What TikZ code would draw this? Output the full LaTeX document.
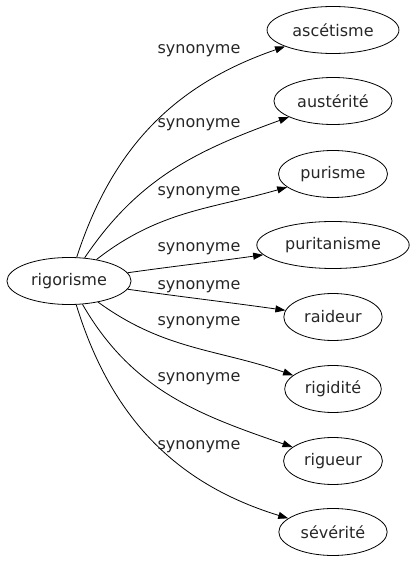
\documentclass[tikz,border=0pt]{standalone}
\usepackage{fontspec}
\setmainfont{DejaVu Sans}
\usetikzlibrary{shapes.geometric,arrows.meta}
\tikzset{word/.style={draw,ellipse,line width=0.8pt,inner xsep=6pt,minimum height=47pt,text=black!85},
  syn/.style={-{Triangle[length=10pt,width=7pt]},line width=0.8pt},
  synlabel/.style={text=black!85}}

\begin{document}
\begin{tikzpicture}[x=1pt,y=1pt,font=\fontsize{16}{19}\selectfont]
  \useasboundingbox (0,0) rectangle (415,563);
\node[word] (rig) at (69,282) {rigorisme};
\foreach \n/\t/\y in {asc/ascétisme/533,aus/austérité/462,pur/purisme/389,purit/puritanisme/318,
  rai/raideur/246,rigid/rigidité/174,rigu/rigueur/102,sev/sévérité/31}
  \node[word] (\n) at (333,\y) {\t};
% edges with labels
\foreach \n/\o/\i/\ly in {asc/72/199/512,aus/56/200/438,pur/38/196/370,purit/8/188/314,
  rai/-8/172/276,rigid/-36/161/240,rigu/-60/161/184,sev/-73/163/116}
  {\draw[syn] (rig) to[out=\o,in=\i] (\n);
   \node[synlabel] (l\n) at (199,\ly) {synonyme};}
\end{tikzpicture}
\end{document}
